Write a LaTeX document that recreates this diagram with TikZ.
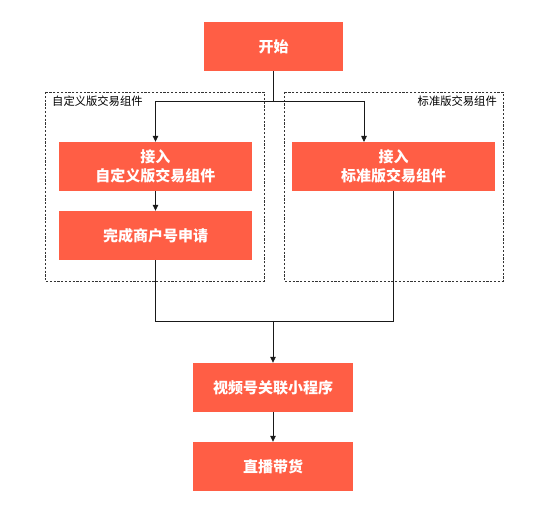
\documentclass[tikz,border=0pt]{standalone}
\usepackage{fontspec}
\newfontfamily\cjk{Noto Sans CJK SC}
\usetikzlibrary{arrows.meta,calc}
\definecolor{boxred}{HTML}{FF5E45}
\begin{document}
\begin{tikzpicture}[x=1pt,y=-1pt,
  box/.style={draw=none,fill=boxred,text=white,font=\cjk\bfseries\fontsize{15}{18.3}\selectfont,align=center,inner sep=0pt},
  grp/.style={draw=black!80,dashed,dash pattern=on 2.2pt off 1.6pt,line width=0.6pt},
  grplabel/.style={font=\cjk\fontsize{11.3}{12}\selectfont,inner sep=0pt},
  conn/.style={draw=black!90,line width=0.8pt},
  arr/.style={conn,-{Triangle[length=6pt,width=5.5pt]}}]
\useasboundingbox (0,0) rectangle (550,513);
% group frames
\draw[grp] (45,92) rectangle (264,281);
\draw[grp] (284,92) rectangle (503,281);
\node[grplabel,anchor=west] (lgl) at (52,101.5) {自定义版交易组件};
\node[grplabel,anchor=east] (rgl) at (497,101.5) {标准版交易组件};
% boxes
\node[box,minimum width=139pt,minimum height=49pt] (start) at (273.5,46.5) {开始};
\node[box,minimum width=193pt,minimum height=49pt] (lb1) at (155.5,166.5) {接入\\自定义版交易组件};
\node[box,minimum width=193pt,minimum height=49pt] (lb2) at (155.5,235.5) {完成商户号申请};
\node[box,minimum width=203pt,minimum height=49pt] (rb) at (393.5,166.5) {接入\\标准版交易组件};
\node[box,minimum width=160pt,minimum height=49pt] (sph) at (273,387.5) {视频号关联小程序};
\node[box,minimum width=160pt,minimum height=49pt] (live) at (273,466.5) {直播带货};
% coordinates
\coordinate (split) at (273.5,101);
\coordinate (sl) at (156,101);
\coordinate (sr) at (364,101);
\coordinate (rbin) at (364,142);
\coordinate (jl) at (155.5,321);
\coordinate (jr) at (393.5,321);
\coordinate (jm) at (273,321);
% connectors
\draw[conn] (start.south) -- (split);
\draw[arr] (sl) -| (lb1.north);
\draw[conn] (sl) -- (sr);
\draw[arr] (sr) -- (rbin);
\draw[arr] (lb1.south) -- (lb2.north);
\draw[conn] (lb2.south) -- (jl) -- (jr) -- (rb.south);
\draw[arr] (jm) -- (sph.north);
\draw[arr] (sph.south) -- (live.north);
\end{tikzpicture}
\end{document}
